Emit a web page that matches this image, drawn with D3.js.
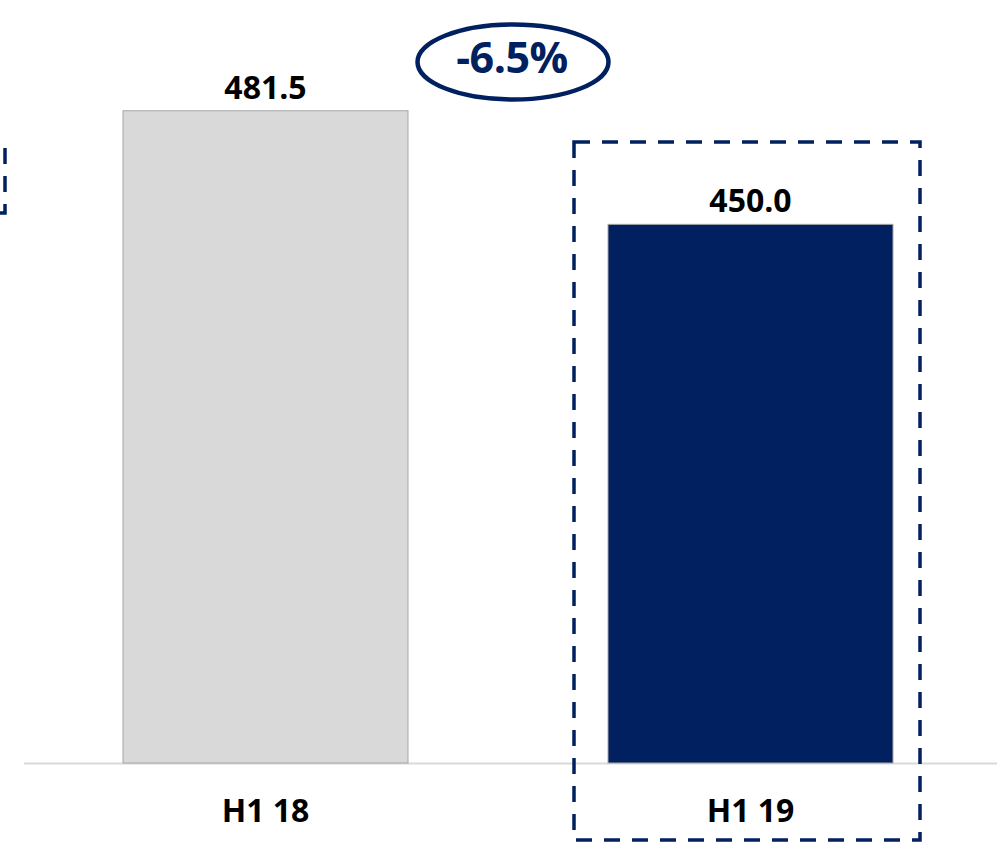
<!DOCTYPE html>
<html>
<head>
<meta charset="utf-8">
<script src="https://cdn.jsdelivr.net/npm/d3@7"></script>
<style>
  html, body { margin: 0; padding: 0; background: #ffffff; }
  svg { display: block; }
  text { font-family: "Open Sans", Lato, "Liberation Sans", sans-serif; font-weight: 700; }
</style>
</head>
<body>
<svg id="chart" width="997" height="843"></svg>
<script>
// ---- data ----
const categories = ["H1 18", "H1 19"];
const values = [481.5, 450.0];
const valueLabels = ["481.5", "450.0"];
const changeLabel = "-6.5%";
const barColors = ["#d9d9d9", "#002060"];

// ---- layout ----
const W = 997, H = 843;
const navy = "#002060";
const svg = d3.select("#chart");

const x = d3.scaleBand()
  .domain(categories)
  .range([23, 993])
  .paddingInner(0.4124)
  .paddingOuter(0.2062);

const y = d3.scaleLinear()
  .domain([300.6, 510])
  .range([763, 8]);

// axis (ticks hidden) and baseline
const xAxis = d3.axisBottom(x).tickSize(0).tickPadding(0).tickFormat("");
const gAxis = svg.append("g").attr("transform", "translate(0,763)").call(xAxis);
gAxis.select(".domain").remove();
svg.append("line")
  .attr("x1", 24).attr("x2", 997)
  .attr("y1", 763.5).attr("y2", 763.5)
  .attr("stroke", "#d9d9d9").attr("stroke-width", 2);

// bars
svg.append("g").selectAll("rect")
  .data(values)
  .join("rect")
  .attr("x", (d, i) => x(categories[i]))
  .attr("y", d => y(d))
  .attr("width", x.bandwidth())
  .attr("height", d => y.range()[0] - y(d))
  .attr("fill", (d, i) => barColors[i])
  .attr("stroke", "#a6a6a6")
  .attr("stroke-width", 1);

// value labels
svg.append("g").selectAll("text")
  .data(values)
  .join("text")
  .attr("x", (d, i) => x(categories[i]) + x.bandwidth() / 2)
  .attr("y", d => y(d) - 12)
  .attr("text-anchor", "middle")
  .attr("font-size", 32)
  .attr("fill", "#000")
  .text((d, i) => valueLabels[i]);

// category labels
svg.append("g").selectAll("text")
  .data(categories)
  .join("text")
  .attr("x", d => x(d) + x.bandwidth() / 2)
  .attr("y", 822)
  .attr("text-anchor", "middle")
  .attr("font-size", 32)
  .attr("fill", "#000")
  .text(d => d);

// highlight dashed box around H1 19
svg.append("rect")
  .attr("x", 574).attr("y", 142)
  .attr("width", 346).attr("height", 698)
  .attr("fill", "none")
  .attr("stroke", navy)
  .attr("stroke-width", 3.5)
  .attr("stroke-dasharray", "16 12");

// partial dashed box at left edge
svg.append("path")
  .attr("d", "M5,139 V213 H-30")
  .attr("fill", "none")
  .attr("stroke", navy)
  .attr("stroke-width", 3.5)
  .attr("stroke-dasharray", "16 12")
  .attr("stroke-dashoffset", 19);

// change ellipse
svg.append("ellipse")
  .attr("cx", 513).attr("cy", 62)
  .attr("rx", 95.5).attr("ry", 37.5)
  .attr("fill", "#fff")
  .attr("stroke", navy)
  .attr("stroke-width", 4.5);
svg.append("text")
  .attr("x", 512).attr("y", 73)
  .attr("text-anchor", "middle")
  .attr("font-size", 43)
  .attr("letter-spacing", -0.5)
  .attr("fill", navy)
  .text(changeLabel);
</script>
</body>
</html>
